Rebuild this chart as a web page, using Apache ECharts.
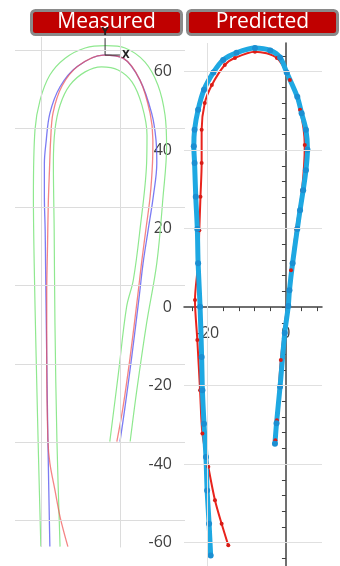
<!DOCTYPE html>
<html>
<head>
<meta charset="utf-8">
<script src="https://cdn.jsdelivr.net/npm/echarts@6/dist/echarts.min.js"></script>
<style>
html,body{margin:0;padding:0;background:#fff;}
#chart{width:340px;height:566px;}
</style>
</head>
<body>
<div id="chart"></div>
<script>
/*----- data: measured panel (left) -----*/
var measuredBlue = [[-17.9,-66.6],[-18.4,-39.4],[-18.7,-18.2],[-18.9,-2.9],[-19.0,5.7],[-19.1,14.2],[-19.3,22.7],[-19.3,31.2],[-18.9,36.3],[-17.9,43.9],[-15.3,50.7],[-11.0,55.8],[-4.3,58.8],[0.8,58.0],[5.1,52.4],[8.1,43.9],[9.2,37.1],[9.4,31.2],[8.5,22.7],[7.2,14.2],[5.9,5.7],[4.9,-2.9],[3.0,-18.2],[1.3,-30.9],[0,-39.8]];
var measuredRed = [[-13.3,-66.6],[-15.3,-59.0],[-16.6,-52.2],[-17.9,-45.3],[-18.4,-39.4],[-18.7,-18.2],[-18.7,-1.9],[-18.5,9.9],[-18.3,21.0],[-18.0,29.5],[-17.7,37.1],[-17.1,44.0],[-14.8,50.9],[-10.7,56.0],[-4.3,58.8],[0.8,58.0],[5.1,52.4],[7.7,43.9],[8.4,37.1],[8.3,31.2],[7.7,22.7],[6.6,14.2],[5.5,5.7],[4.5,-2.9],[2.6,-18.2],[0.8,-30.9],[-0.8,-39.8]];
var boundOuter = [[-20.2,-66.6],[-20.8,-43.7],[-21.4,-18.2],[-21.9,5.7],[-22.1,22.7],[-21.7,39.7],[-20.4,47.3],[-17.9,53.7],[-14.0,58.0],[-8.9,60.6],[-3.6,61.2],[1.3,60.6],[6.4,57.0],[9.7,51.1],[11.5,43.5],[11.9,35.4],[11.0,22.7],[9.4,5.7],[6.8,-9.6],[4.3,-26.7],[2.6,-39.8]];
var boundInner = [[-15.3,-66.6],[-16.1,-39.4],[-16.6,-9.6],[-16.8,14.2],[-17.0,31.2],[-16.6,39.7],[-15.3,46.0],[-12.8,51.1],[-8.9,54.5],[-4.7,55.8],[-0.5,55.0],[3.1,51.9],[5.6,46.0],[6.9,38.4],[6.8,31.2],[5.1,14.2],[3.4,1.4],[1.7,-5.4],[-0.4,-22.4],[-2.6,-39.8]];
var originAxes = [[-3.8,63.1],[-3.8,58.8],[0,58.8]];
var measuredGridX = [-20, 0];
var measuredGridY = [-60, -40, -20, 0, 20, 40, 60];

/*----- data: predicted panel (right) -----*/
var predictedBlue = [[-19.2,-63.3],[-19.6,-55.2],[-20.1,-46.7],[-20.4,-38.2],[-20.9,-29.7],[-21.3,-21.2],[-21.5,-12.7],[-21.9,0.1],[-22.4,11.2],[-22.6,19.9],[-23.0,28.1],[-23.3,36.7],[-23.5,41.0],[-23.3,45.2],[-22.4,50.3],[-20.9,55.4],[-18.5,59.8],[-16.0,63.0],[-12.6,64.8],[-7.9,66.0],[-4.0,65.4],[-1.5,63.6],[0.2,59.8],[2.9,53.6],[4.0,49.4],[5.1,45.2],[5.5,40.1],[5.1,34.9],[4.4,29.8],[3.6,24.7],[2.9,19.9],[1.7,11.2],[0.9,4.3],[0.6,0.3],[-0.3,-6.6],[-1.5,-20.3],[-2.4,-29.6],[-2.8,-34.8]];
var predictedRed = [[-14.7,-60.7],[-16.4,-55.2],[-18.1,-49.2],[-19.8,-40.7],[-21.3,-32.2],[-21.9,-21.2],[-22.6,-8.4],[-23.2,1.8],[-22.4,11.2],[-22.1,19.6],[-21.8,28.1],[-21.5,36.7],[-21.5,45.2],[-20.7,52.0],[-18.9,56.6],[-15.6,61.7],[-13.0,63.5],[-7.9,65.1],[-2.3,63.5],[1.0,57.9],[3.6,50.3],[4.8,41.3],[4.1,29.8],[2.6,19.9],[1.3,9.4],[0.3,0.3],[-1.3,-13.5],[-2.3,-28.8],[-2.7,-33.9]];
var predXTicks = [-24, -20, -16, -12, -8, -4, 0, 4, 8];
var predXLabels = [-20, 0];
var predYTicks = [-64, -60, -56, -52, -48, -44, -40, -36, -32, -28, -24, -20, -16, -12, -8, -4, 0, 4, 8, 12, 16, 20, 24, 28, 32, 36, 40, 44, 48, 52, 56, 60, 64];
var predYLabels = [-60, -40, -20, 0, 20, 40, 60];
var predGridX = [-20];
var predGridY = [-60, -40, -20, 20, 40, 60];

var panelTitles = ['Measured', 'Predicted'];

/* predicted y range; the x axis is lifted from the grid bottom up to y = 0 */
var predYMin = -68, predYMax = 67.3;
var predTop = 43, predHeight = 531;
var zeroLift = predHeight * (0 - predYMin) / (predYMax - predYMin);

function gridLines(xs, ys, color){
	var list = [];
	for(var i = 0; i < xs.length; i++){
		list.push({xAxis: xs[i]});
	}
	for(var j = 0; j < ys.length; j++){
		list.push({yAxis: ys[j]});
	}
	return {
		silent: true,
		symbol: ['none', 'none'],
		label: {show: false},
		lineStyle: {color: color, width: 1, type: 'solid'},
		emphasis: {disabled: true},
		data: list
	};
}

function titleBox(x, text){
	return {
		type: 'group',
		left: x,
		top: 9,
		children: [
			{
				type: 'rect',
				shape: {x: 0, y: 0, width: 150, height: 24, r: 4},
				style: {fill: '#c00000', stroke: '#8a8a8a', lineWidth: 3}
			},
			{
				type: 'text',
				x: 75,
				y: 12,
				style: {
					text: text,
					fill: '#ffffff',
					font: '21px "Open Sans"',
					textAlign: 'center',
					textVerticalAlign: 'middle'
				}
			}
		]
	};
}

var option = {
	animation: false,
	backgroundColor: '#ffffff',
	graphic: [titleBox(30, panelTitles[0]), titleBox(186, panelTitles[1])],
	grid: [
		{left: 15, top: 37, width: 170, height: 510, outerBoundsMode: 'none', containLabel: false},
		{left: 184, top: predTop, width: 138, height: predHeight, outerBoundsMode: 'none', containLabel: false}
	],
	xAxis: [
		{
			gridIndex: 0, type: 'value', min: -26.8, max: 16.6,
			show: false, splitLine: {show: false}
		},
		{
			gridIndex: 1, type: 'value', min: -26, max: 9.2,
			position: 'bottom', offset: -zeroLift,
			axisLine: {onZero: false, lineStyle: {color: '#404040', width: 1.5}},
			axisTick: {show: true, customValues: predXTicks, length: 4, lineStyle: {color: '#404040'}},
			axisLabel: {customValues: predXLabels, margin: 18, color: '#404040', fontSize: 16, fontFamily: 'Open Sans'},
			splitLine: {show: false}
		}
	],
	yAxis: [
		{
			gridIndex: 0, type: 'value', min: -66.7, max: 63.4, position: 'right',
			axisLine: {show: true, lineStyle: {color: '#d9d9d9'}},
			axisTick: {show: false},
			axisLabel: {show: false},
			splitLine: {show: false}
		},
		{
			gridIndex: 1, type: 'value', min: predYMin, max: predYMax,
			axisLine: {onZero: true, lineStyle: {color: '#404040', width: 1.5}},
			axisTick: {show: true, customValues: predYTicks, length: 4, lineStyle: {color: '#404040'}},
			axisLabel: {customValues: predYLabels, margin: 12, color: '#404040', fontSize: 16, fontFamily: 'Open Sans'},
			splitLine: {show: false}
		}
	],
	series: [
		{
			name: 'measured grid', type: 'line', xAxisIndex: 0, yAxisIndex: 0,
			data: [[0, 0]], showSymbol: false, lineStyle: {opacity: 0}, z: 1,
			markLine: gridLines(measuredGridX, measuredGridY, '#dcdcdc')
		},
		{
			name: 'bound outer', type: 'line', xAxisIndex: 0, yAxisIndex: 0,
			data: boundOuter, smooth: 0.35, showSymbol: false,
			lineStyle: {color: '#8fe88f', width: 1.2}
		},
		{
			name: 'bound inner', type: 'line', xAxisIndex: 0, yAxisIndex: 0,
			data: boundInner, smooth: 0.35, showSymbol: false,
			lineStyle: {color: '#8fe88f', width: 1.2}
		},
		{
			name: 'measured blue', type: 'line', xAxisIndex: 0, yAxisIndex: 0,
			data: measuredBlue, smooth: 0.35, showSymbol: false,
			lineStyle: {color: '#5a5af0', width: 1.3, opacity: 0.8}
		},
		{
			name: 'measured red', type: 'line', xAxisIndex: 0, yAxisIndex: 0,
			data: measuredRed, smooth: 0.35, showSymbol: false,
			lineStyle: {color: '#f05050', width: 1.3, opacity: 0.7}
		},
		{
			name: 'origin', type: 'line', xAxisIndex: 0, yAxisIndex: 0,
			data: originAxes, showSymbol: false,
			lineStyle: {color: '#333333', width: 1},
			markPoint: {
				symbolSize: 0,
				silent: true,
				label: {show: true, color: '#222222', fontSize: 10, fontWeight: 'bold', fontFamily: 'DejaVu Sans', formatter: '{b}'},
				data: [
					{name: 'Y', coord: originAxes[0], label: {position: 'top', distance: 1}},
					{name: 'X', coord: originAxes[2], label: {position: 'right', distance: 2}}
				]
			}
		},
		{
			name: 'predicted grid', type: 'line', xAxisIndex: 1, yAxisIndex: 1,
			data: [[0, 0]], showSymbol: false, lineStyle: {opacity: 0}, z: 1,
			markLine: gridLines(predGridX, predGridY, '#e0e0e0')
		},
		{
			name: 'predicted red', type: 'line', xAxisIndex: 1, yAxisIndex: 1,
			data: predictedRed, smooth: 0.3,
			symbol: 'circle', symbolSize: 4, showSymbol: true,
			itemStyle: {color: '#d81c16'},
			lineStyle: {color: '#e8231c', width: 2}
		},
		{
			name: 'predicted blue', type: 'line', xAxisIndex: 1, yAxisIndex: 1,
			data: predictedBlue, smooth: 0.3,
			symbol: 'circle', symbolSize: 6, showSymbol: true,
			itemStyle: {color: '#1b8fd2'},
			lineStyle: {color: '#1ea8e2', width: 5}
		}
	]
};
echarts.init(document.getElementById('chart')).setOption(option, true);
</script>
</body>
</html>
